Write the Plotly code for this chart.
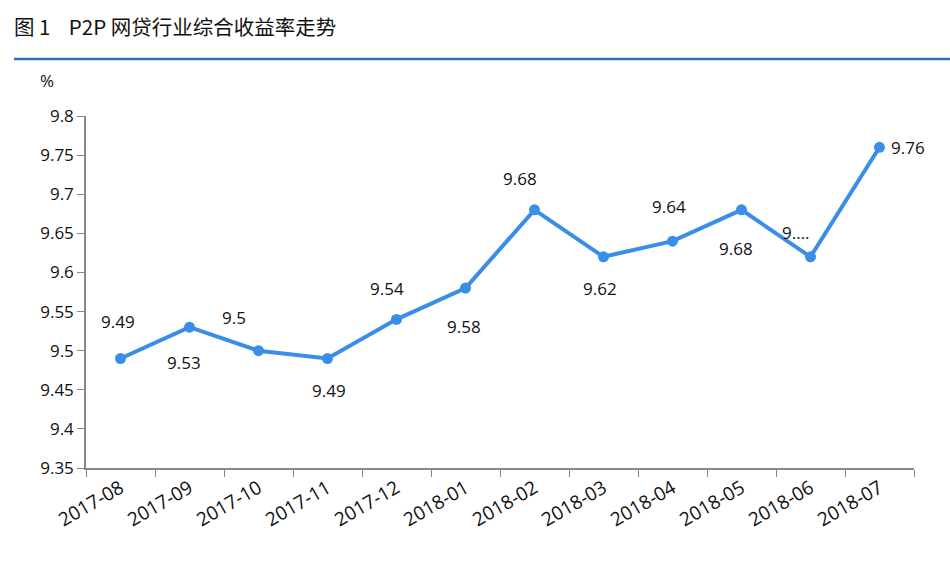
import plotly.graph_objects as go

months = ["2017-08", "2017-09", "2017-10", "2017-11", "2017-12", "2018-01",
          "2018-02", "2018-03", "2018-04", "2018-05", "2018-06", "2018-07"]
rates = [9.49, 9.53, 9.50, 9.49, 9.54, 9.58, 9.68, 9.62, 9.64, 9.68, 9.62, 9.76]
labels = ["9.49", "9.53", "9.5", "9.49", "9.54", "9.58", "9.68", "9.62", "9.64", "9.68", "9....", "9.76"]
# label placement (style): (xshift, yshift)
label_shifts = [(-3, 37), (-6, -35), (-25, 33), (1, -32), (-10, 31), (-2, -38),
                (-15, 31), (-4, -32), (-4, 35), (-6, -39), (-15, 24), (28, 0)]

W, H = 950, 562
ML, MR, MT, MB = 86, 36, 116, 94
PW, PH = W - ML - MR, H - MT - MB

def px_x(x):
    return (x - ML) / PW

def px_y(y):
    return (H - MB - y) / PH

num_font = "Open Sans, Noto Sans, sans-serif"

fig = go.Figure()
fig.add_trace(go.Scatter(
    x=months, y=rates, mode="lines+markers",
    line=dict(color="#3A8EE8", width=4),
    marker=dict(color="#3A8EE8", size=11),
    hoverinfo="skip", showlegend=False,
))

for m, v, t, (dx, dy) in zip(months, rates, labels, label_shifts):
    fig.add_annotation(x=m, y=v, xref="x", yref="y", text=t, showarrow=False,
                       xshift=dx, yshift=dy,
                       font=dict(family=num_font, size=17, color="#111111"))

fig.add_annotation(x=px_x(47), y=px_y(80), xref="paper", yref="paper", text="%",
                   xanchor="center", yanchor="middle", showarrow=False,
                   font=dict(family=num_font, size=17, color="#111111"))

fig.add_shape(type="line", xref="paper", yref="paper",
              x0=px_x(14), x1=px_x(950), y0=px_y(59), y1=px_y(59),
              line=dict(color="#2E6DBF", width=2.5))

fig.update_layout(
    width=W, height=H,
    margin=dict(l=ML, r=MR, t=MT, b=MB),
    paper_bgcolor="white", plot_bgcolor="white",
    title=dict(text="图 1\u00a0\u00a0\u00a0 P2P 网贷行业综合收益率走势",
               xref="container", yref="container", x=14 / W, y=1 - 28 / H,
               xanchor="left", yanchor="middle",
               font=dict(family="Noto Sans CJK SC, sans-serif", size=20.5, color="#111111")),
    xaxis=dict(
        type="category", tickson="boundaries", ticks="outside", ticklen=7,
        tickcolor="#888888", showline=True, linecolor="#888888", linewidth=1.5,
        showgrid=False, tickangle=-30, range=[-0.5, len(months) - 0.5],
        tickfont=dict(family=num_font, size=19, color="#111111"),
    ),
    yaxis=dict(
        range=[9.35, 9.8], dtick=0.05, tick0=9.35, ticks="outside", ticklen=7,
        tickcolor="#888888", showline=True, linecolor="#888888", linewidth=1.5,
        showgrid=False, zeroline=False,
        tickfont=dict(family=num_font, size=17, color="#111111"),
    ),
)

fig.write_html("out.html")
